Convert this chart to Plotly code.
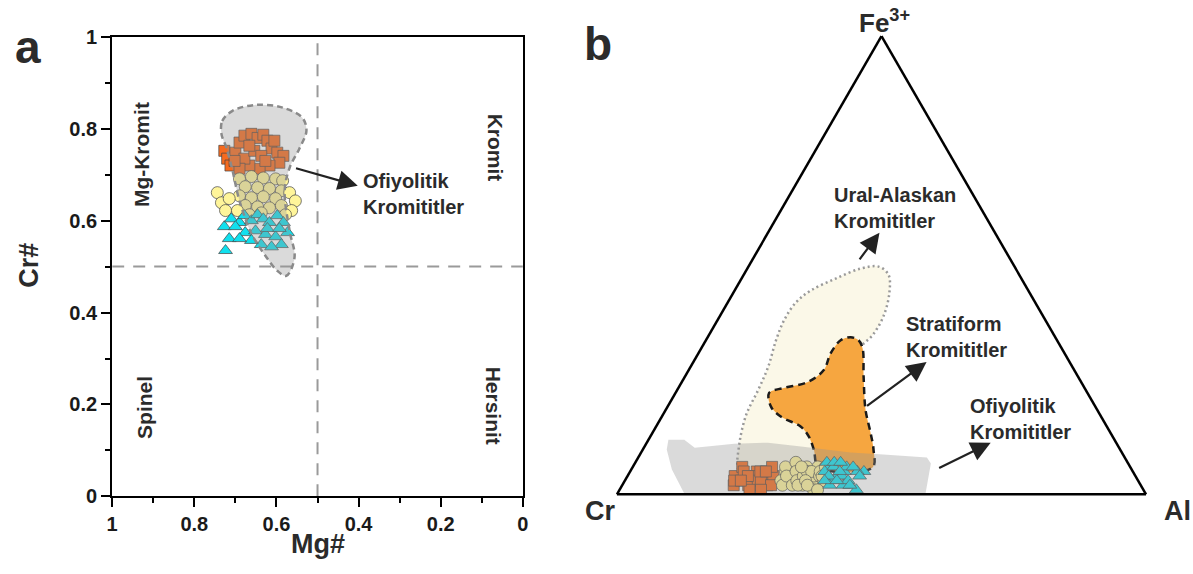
import numpy as np
import plotly.graph_objects as go

# ---------------- sample data ----------------
# Orange squares
SQ_MG = [0.727, 0.720, 0.712, 0.700, 0.690, 0.678, 0.661, 0.646, 0.632, 0.622, 0.612, 0.598, 0.583,
         0.593, 0.617, 0.641, 0.666, 0.678, 0.654, 0.637, 0.666, 0.690, 0.605, 0.702, 0.627]
SQ_CR = [0.752, 0.735, 0.720, 0.748, 0.770, 0.785, 0.789, 0.780, 0.787, 0.774, 0.757, 0.748, 0.741,
         0.726, 0.720, 0.713, 0.720, 0.735, 0.752, 0.741, 0.763, 0.713, 0.774, 0.730, 0.730]
SQ_FE = [0.03, 0.02, 0.04, 0.05, 0.03, 0.02, 0.04, 0.06, 0.03, 0.05, 0.02, 0.04, 0.03,
         0.05, 0.02, 0.04, 0.06, 0.03, 0.01, 0.05, 0.04, 0.02, 0.03, 0.05, 0.01]
# Yellow circles
CI_MG = [0.690, 0.661, 0.632, 0.602, 0.585, 0.676, 0.646, 0.617, 0.588, 0.690, 0.661, 0.632, 0.602, 0.676,
         0.646, 0.617, 0.588, 0.744, 0.734, 0.715, 0.724, 0.568, 0.554, 0.563, 0.578, 0.695, 0.637, 0.666]
CI_CR = [0.691, 0.696, 0.693, 0.691, 0.687, 0.674, 0.672, 0.670, 0.665, 0.654, 0.650, 0.652, 0.648, 0.633,
         0.630, 0.628, 0.633, 0.661, 0.639, 0.648, 0.622, 0.661, 0.643, 0.622, 0.613, 0.622, 0.617, 0.613]
CI_FE = [0.05, 0.03, 0.06, 0.02, 0.04, 0.07, 0.02, 0.05, 0.03, 0.04, 0.06, 0.02, 0.05, 0.03,
         0.01, 0.06, 0.04, 0.02, 0.05, 0.03, 0.04, 0.06, 0.02, 0.05, 0.03, 0.01, 0.04, 0.06]
# Cyan triangles
TR_MG = [0.727, 0.715, 0.724, 0.710, 0.690, 0.678, 0.661, 0.646, 0.632, 0.617, 0.598, 0.583, 0.573,
         0.676, 0.651, 0.627, 0.602, 0.588, 0.637, 0.612, 0.661, 0.690, 0.700, 0.622, 0.593]
TR_CR = [0.587, 0.561, 0.535, 0.604, 0.596, 0.611, 0.600, 0.613, 0.604, 0.596, 0.611, 0.596, 0.574,
         0.574, 0.578, 0.570, 0.565, 0.548, 0.548, 0.543, 0.557, 0.561, 0.587, 0.583, 0.583]
TR_FE = [0.04, 0.02, 0.05, 0.06, 0.03, 0.07, 0.02, 0.05, 0.04, 0.06, 0.03, 0.07, 0.05,
         0.02, 0.04, 0.06, 0.03, 0.05, 0.01, 0.04, 0.06, 0.02, 0.03, 0.05, 0.07]

# Ofiyolitik field, Mg# vs Cr#
OF_MG = [0.734, 0.732, 0.707, 0.649, 0.585, 0.537, 0.527, 0.544, 0.568, 0.580, 0.568, 0.556,
         0.576, 0.598, 0.624, 0.661, 0.690, 0.707, 0.722, 0.734]
OF_CR = [0.789, 0.817, 0.839, 0.852, 0.846, 0.824, 0.796, 0.757, 0.715, 0.665, 0.578, 0.520,
         0.480, 0.491, 0.520, 0.572, 0.643, 0.709, 0.759, 0.789]

# Ternary fields (Fe3+, Cr, Al)
UA_FE = [0.0543, 0.1085, 0.1736, 0.2279, 0.2778, 0.3364, 0.3799, 0.4189, 0.4450, 0.4710, 0.4927, 0.4971,
         0.4797, 0.4406, 0.3885, 0.3473, 0.3213, 0.2496, 0.1628, 0.0716, 0.0456, 0.0369, 0.0391, 0.0543]
UA_CR = [0.7435, 0.7146, 0.6689, 0.6190, 0.5754, 0.5310, 0.4942, 0.4522, 0.4110, 0.3510, 0.2932, 0.2571,
         0.2470, 0.2647, 0.3021, 0.3433, 0.3789, 0.4429, 0.5145, 0.5846, 0.6294, 0.6902, 0.7361, 0.7435]
UA_AL = [0.2022, 0.1769, 0.1575, 0.1530, 0.1468, 0.1325, 0.1259, 0.1289, 0.1440, 0.1780, 0.2141, 0.2458,
         0.2733, 0.2947, 0.3094, 0.3094, 0.2998, 0.3075, 0.3227, 0.3438, 0.3250, 0.2729, 0.2248, 0.2022]

ST_FE = [0.0586, 0.0977, 0.1259, 0.1476, 0.1693, 0.1910, 0.2214, 0.2323, 0.2453, 0.2713, 0.3082, 0.3364,
         0.3430, 0.3364, 0.3191, 0.2561, 0.1845, 0.1346, 0.0977, 0.0586, 0.0586]
ST_CR = [0.5891, 0.5790, 0.5743, 0.5785, 0.6051, 0.6131, 0.6017, 0.5681, 0.5164, 0.4734, 0.4418, 0.4089,
         0.3867, 0.3751, 0.3762, 0.4057, 0.4379, 0.4534, 0.4662, 0.4876, 0.5891]
ST_AL = [0.3523, 0.3233, 0.2998, 0.2739, 0.2256, 0.1959, 0.1769, 0.1996, 0.2383, 0.2553, 0.2500, 0.2547,
         0.2703, 0.2885, 0.3047, 0.3382, 0.3776, 0.4120, 0.4361, 0.4538, 0.3523]

OT_FE = [0.0, 0.0543, 0.0977, 0.1194, 0.1194, 0.1020, 0.1107, 0.1129, 0.1042, 0.0912, 0.0868, 0.0803, 0.0673, 0.0, 0.0]
OT_CR = [0.872, 0.869, 0.857, 0.843, 0.813, 0.802, 0.723, 0.658, 0.600, 0.513, 0.453, 0.374, 0.373, 0.417, 0.872]
OT_AL = [0.128, 0.0767, 0.0453, 0.0376, 0.0676, 0.096, 0.1663, 0.2291, 0.2958, 0.3958, 0.4602, 0.5457, 0.5597, 0.583, 0.128]

X_TICKS = [1, 0.8, 0.6, 0.4, 0.2, 0]
Y_TICKS = [0, 0.2, 0.4, 0.6, 0.8, 1]

# ---------------- styling ----------------
FONT = "Liberation Sans, Arial, sans-serif"
TXT = "#2b2b2b"
C_SQ = "#f66a1e"
C_CI = "#fff59a"
C_TR = "#10e0ee"
GRAY_FILL = "rgba(150,150,150,0.35)"
EDGE = dict(color="#444444", width=0.7)
W, H = 1193, 574

# page-pixel -> paper fraction (calibrated to the rendered plot area)
OX, OY, PW, PH = 7.0, 9.0, 1179.0, 555.0
def PX(px):
    return (px - OX) / PW
def PY(py):
    return 1 - (py - OY) / PH

fig = go.Figure()

# ---- panel a ----
fig.add_trace(go.Scatter(x=SQ_MG, y=SQ_CR, mode="markers",
                         marker=dict(symbol="square", size=11, color=C_SQ, line=EDGE)))
fig.add_trace(go.Scatter(x=CI_MG, y=CI_CR, mode="markers",
                         marker=dict(symbol="circle", size=12, color=C_CI, line=EDGE)))
fig.add_trace(go.Scatter(x=TR_MG, y=TR_CR, mode="markers",
                         marker=dict(symbol="triangle-up", size=12, color=C_TR, line=EDGE)))
fig.add_trace(go.Scatter(x=OF_MG, y=OF_CR, mode="lines", fill="toself", fillcolor=GRAY_FILL,
                         line=dict(color="#8a8a8a", width=2.5, dash="6px,4px", shape="spline", smoothing=1.0)))

# ---- panel b (ternary) ----
def tern(fe, cr):
    fe = np.array(fe); cr = np.array(cr)
    return fe, (1 - fe) * cr, (1 - fe) * (1 - cr)

fig.add_trace(go.Scatterternary(a=UA_FE, b=UA_CR, c=UA_AL, mode="lines", fill="toself",
                                fillcolor="#fbf8e8",
                                line=dict(color="#9a9a9a", width=2.5, dash="2px,3px", shape="spline", smoothing=1.0)))
fig.add_trace(go.Scatterternary(a=ST_FE, b=ST_CR, c=ST_AL, mode="lines", fill="toself",
                                fillcolor="#f6a640",
                                line=dict(color="#1a1a1a", width=2.5, dash="7px,5px", shape="spline", smoothing=1.0)))
for fe, cr, sym, size, col in [(SQ_FE, SQ_CR, "square", 11, C_SQ),
                               (CI_FE, CI_CR, "circle", 12, C_CI),
                               (TR_FE, TR_CR, "triangle-up", 12, C_TR)]:
    a, b, c = tern(fe, cr)
    fig.add_trace(go.Scatterternary(a=a, b=b, c=c, mode="markers",
                                    marker=dict(symbol=sym, size=size, color=col, line=EDGE)))
fig.add_trace(go.Scatterternary(a=OT_FE, b=OT_CR, c=OT_AL, mode="lines", fill="toself",
                                fillcolor=GRAY_FILL, line=dict(width=0)))

tax = dict(showgrid=False, showticklabels=False, ticks="", linecolor="black", linewidth=2.5,
           title=dict(text=""), showline=True)

axis_common = dict(ticks="outside", ticklen=9, tickwidth=2, tickcolor="black", showline=True,
                   linecolor="black", linewidth=2, mirror=True, showgrid=False, zeroline=False,
                   minor=dict(dtick=0.1, ticks="outside", ticklen=5, tickwidth=2, tickcolor="black"),
                   tickfont=dict(family=FONT, size=20, color="#1a1a1a", weight="bold"))

fig.update_layout(
    width=W, height=H, margin=dict(l=0, r=0, t=0, b=0),
    paper_bgcolor="white", plot_bgcolor="white", showlegend=False,
    xaxis=dict(domain=[PX(113), PX(523)], range=[1, 0], tickvals=X_TICKS,
               ticktext=[str(v) for v in X_TICKS], **axis_common),
    yaxis=dict(domain=[PY(497), PY(35)], range=[0, 1], tickvals=Y_TICKS,
               ticktext=[str(v) for v in Y_TICKS], **axis_common),
    ternary=dict(domain=dict(x=[PX(615), PX(1147)], y=[PY(495), PY(34.3)]), sum=1, bgcolor="white",
                 aaxis=tax, baxis=tax, caxis=tax),
    shapes=[
        dict(type="line", xref="x", yref="y", x0=0.5, x1=0.5, y0=0, y1=1,
             line=dict(color="#9a9a9a", width=2, dash="12px,9px"), layer="below"),
        dict(type="line", xref="x", yref="y", x0=1, x1=0, y0=0.5, y1=0.5,
             line=dict(color="#9a9a9a", width=2, dash="12px,9px"), layer="below"),
    ],
)

def ann(text, x, y, size=20, xref="paper", yref="paper", angle=0, xanchor="center", yanchor="middle", align="center"):
    fig.add_annotation(text=text, x=x, y=y, xref=xref, yref=yref, showarrow=False, textangle=angle,
                       xanchor=xanchor, yanchor=yanchor, align=align,
                       font=dict(family=FONT, size=size, color=TXT, weight="bold"))

def arrow(x, y, ax, ay, xref="paper", yref="paper", axref="pixel", ayref="pixel"):
    fig.add_annotation(x=x, y=y, ax=ax, ay=ay, xref=xref, yref=yref, axref=axref, ayref=ayref,
                       text="", showarrow=True, arrowhead=2, arrowsize=1.8, arrowwidth=2.2,
                       arrowcolor="#222222")

def parrow(head, tail):
    arrow(PX(head[0]), PY(head[1]), tail[0] - head[0], tail[1] - head[1])

# panel letters and axis titles
ann("a", PX(29), PY(45), size=46)
ann("b", PX(598), PY(42), size=46)
ann("Mg#", PX(318), PY(545), size=27)
ann("Cr#", PX(30), PY(265), size=27, angle=-90)

# panel a field labels
ann("Mg-Kromit", 0.927, 0.743, xref="x", yref="y", angle=-90, size=21)
ann("Kromit", 0.068, 0.759, xref="x", yref="y", angle=90, size=21)
ann("Spinel", 0.922, 0.193, xref="x", yref="y", angle=-90, size=21)
ann("Hersinit", 0.071, 0.198, xref="x", yref="y", angle=90, size=21)
ann("Ofiyolitik<br>Kromititler", 0.393, 0.659, xref="x", yref="y", xanchor="left", align="left", size=20)
arrow(0.402, 0.676, 0.556, 0.715, xref="x", yref="y", axref="x", ayref="y")

# panel b labels
ann("Fe<sup>3+</sup>", PX(884), PY(20), size=26)
ann("Cr", PX(600), PY(512), size=27)
ann("Al", PX(1177), PY(512), size=27)
ann("Ural-Alaskan<br>Kromititler", PX(832), PY(207), size=20, xanchor="left", align="left")
ann("Stratiform<br>Kromititler", PX(903), PY(337), size=20, xanchor="left", align="left")
ann("Ofiyolitik<br>Kromititler", PX(967), PY(419), size=20, xanchor="left", align="left")
parrow((879, 232), (858, 260))
parrow((926, 362), (865, 407))
parrow((990, 443), (937, 469))

fig.write_html("out.html")
